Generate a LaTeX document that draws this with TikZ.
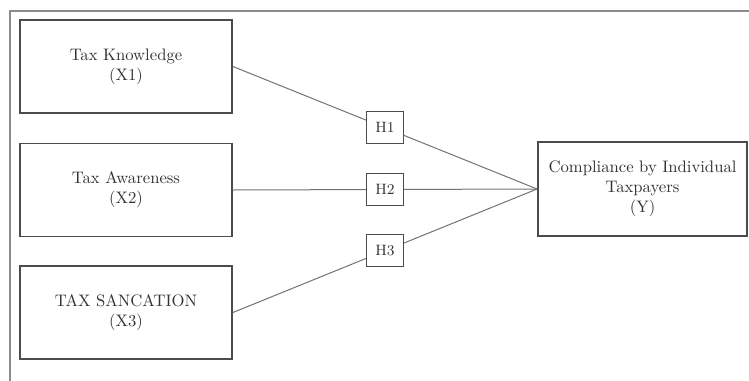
\documentclass[tikz,border=0pt]{standalone}
\begin{document}
\begin{tikzpicture}[x=0.6pt,y=-0.6pt,
  varbox/.style={draw=black!70, line width=1.1pt, fill=white, text=black!80,
    minimum width=127.2pt, minimum height=55.8pt, align=center, inner sep=2pt},
  hbox/.style={draw=black!70, line width=0.8pt, fill=white, text=black!80,
    minimum width=22.2pt, minimum height=19.2pt, inner sep=1pt, font=\small},
  link/.style={draw=black!55, line width=0.6pt},
  frameline/.style={draw=black!45, line width=1.2pt}]
\useasboundingbox (0,0) rectangle (749,381);
\draw[frameline] (10,381) -- (10,11) -- (749,11);
\node[varbox] (x1) at (126,66.5) {Tax Knowledge\\(X1)};
\node[varbox] (x2) at (126,190) {Tax Awareness\\(X2)};
\node[varbox] (x3) at (126,312.5) {TAX SANCATION\\(X3)};
\node[varbox, minimum width=125.4pt, minimum height=56.4pt] (y) at (642.5,189) {Compliance by Individual\\Taxpayers\\(Y)};
\draw[link] (x1.east) -- (y.west) node[hbox, pos=0.5] (h1) {H1};
\draw[link] (x2.east) -- (y.west) node[hbox, pos=0.5] (h2) {H2};
\draw[link] (x3.east) -- (y.west) node[hbox, pos=0.5] (h3) {H3};
\end{tikzpicture}
\end{document}
